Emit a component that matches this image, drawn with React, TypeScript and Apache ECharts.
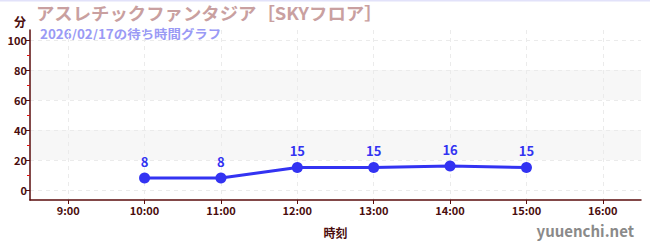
import React, { useEffect, useRef } from "react";
import * as echarts from "echarts";

const hours = [10, 11, 12, 13, 14, 15];
const waits = [8, 8, 15, 15, 16, 15];
const xMin = 8.5;
const xMax = 16.5;
const yTicks = [0, 20, 40, 60, 80, 100];
const title = "アスレチックファンタジア［SKYフロア］";
const subtitle = "2026/02/17の待ち時間グラフ";
const yName = "分";
const xName = "時刻";
const credit = "yuuenchi.net";

const AXIS = "#5a0c0c";
const LABEL = "#4a0d0d";
const BLUE = "#3333f2";
const FONT = "'Noto Sans CJK JP', 'Noto Sans', sans-serif";

export default function App() {
  const ref = useRef<HTMLDivElement>(null);
  useEffect(() => {
    if (!ref.current) return;
    const chart = echarts.init(ref.current, undefined, { renderer: "svg" });
    const seriesData = hours.map((h, i) => [h, waits[i]]);
    chart.setOption({
      animation: false,
      backgroundColor: "#ffffff",
      textStyle: { fontFamily: FONT },
      grid: [
        { left: 30, right: 9, top: 30, bottom: 50 },
        { left: 30, right: 9, top: 40, bottom: 60 },
      ],
      xAxis: [
        {
          gridIndex: 0,
          type: "value",
          min: xMin,
          max: xMax,
          splitNumber: 8,
          axisLine: { show: true, onZero: false, lineStyle: { color: AXIS, width: 1.5 } },
          axisTick: { show: true, length: 4, lineStyle: { color: AXIS } },
          axisLabel: {
            color: LABEL,
            fontSize: 11,
            fontWeight: "bold",
            fontFamily: FONT,
            margin: 4,
            showMinLabel: false,
            showMaxLabel: false,
            formatter: (v: number) => (Number.isInteger(v) ? `${v}:00` : ""),
          },
          splitLine: {
            show: true,
            showMinLine: false,
            showMaxLine: false,
            lineStyle: { color: "#ebebeb", type: [4, 4], width: 1 },
          },
          name: xName,
          nameLocation: "middle",
          nameGap: 26,
          nameTextStyle: { color: LABEL, fontSize: 12, fontWeight: "bold", fontFamily: FONT },
        },
        {
          gridIndex: 1,
          type: "value",
          min: xMin,
          max: xMax,
          show: false,
        },
      ],
      yAxis: [
        {
          gridIndex: 0,
          type: "value",
          min: -20 / 3,
          max: 320 / 3,
          axisLine: { show: true, onZero: false, lineStyle: { color: AXIS, width: 1.5 } },
          axisTick: { show: false },
          axisLabel: { show: false },
          splitLine: { show: false },
          name: yName,
          nameLocation: "end",
          nameGap: 0,
          nameTextStyle: {
            color: LABEL,
            fontSize: 12,
            fontWeight: "bold",
            fontFamily: FONT,
            align: "right",
            verticalAlign: "bottom",
            padding: [0, 4, 3, 0],
          },
        },
        {
          gridIndex: 1,
          type: "value",
          min: yTicks[0],
          max: yTicks[yTicks.length - 1],
          interval: yTicks[1] - yTicks[0],
          axisLine: { show: false },
          axisTick: { show: true, length: 4, lineStyle: { color: AXIS } },
          minorTick: { show: true, splitNumber: 2, length: 3, lineStyle: { color: "#e01010" } },
          axisLabel: {
            color: LABEL,
            fontSize: 11,
            fontWeight: "bold",
            fontFamily: FONT,
            margin: 3,
          },
          splitLine: { show: true, lineStyle: { color: "#ebebeb", type: [4, 4], width: 1 } },
          splitArea: { show: true, areaStyle: { color: ["#ffffff", "#f7f7f7"] } },
        },
      ],
      series: [
        {
          type: "line",
          xAxisIndex: 1,
          yAxisIndex: 1,
          data: seriesData,
          symbol: "circle",
          symbolSize: 11,
          lineStyle: { color: BLUE, width: 3 },
          itemStyle: { color: BLUE },
          label: {
            show: true,
            position: "top",
            distance: 5,
            color: BLUE,
            fontSize: 13,
            fontWeight: "bold",
            fontFamily: FONT,
            formatter: (p: any) => `${p.value[1]}`,
          },
          z: 5,
        },
      ],
      graphic: [
        {
          type: "rect",
          left: 0,
          top: 0,
          shape: { width: 650, height: 1.5 },
          style: { fill: "#e2e2fa" },
        },
        {
          type: "text",
          x: 36,
          y: 12.5,
          scaleX: 1.05,
          style: {
            text: title,
            fill: "#c9a0a0",
            font: `bold 17.5px ${FONT}`,
            verticalAlign: "middle",
          },
        },
        {
          type: "text",
          x: 40,
          y: 33.5,
          scaleX: 1.075,
          style: {
            text: subtitle,
            fill: "#9a9af5",
            font: `bold 12.5px ${FONT}`,
            verticalAlign: "middle",
          },
        },
        {
          type: "text",
          right: 16,
          top: 223,
          style: {
            text: credit,
            fill: "#8a8a8a",
            font: `bold 15px ${FONT}`,
          },
        },
      ],
    });
    return () => chart.dispose();
  }, []);
  return <div ref={ref} style={{ width: 650, height: 250, position: "absolute", left: 0, top: 0 }} />;
}
